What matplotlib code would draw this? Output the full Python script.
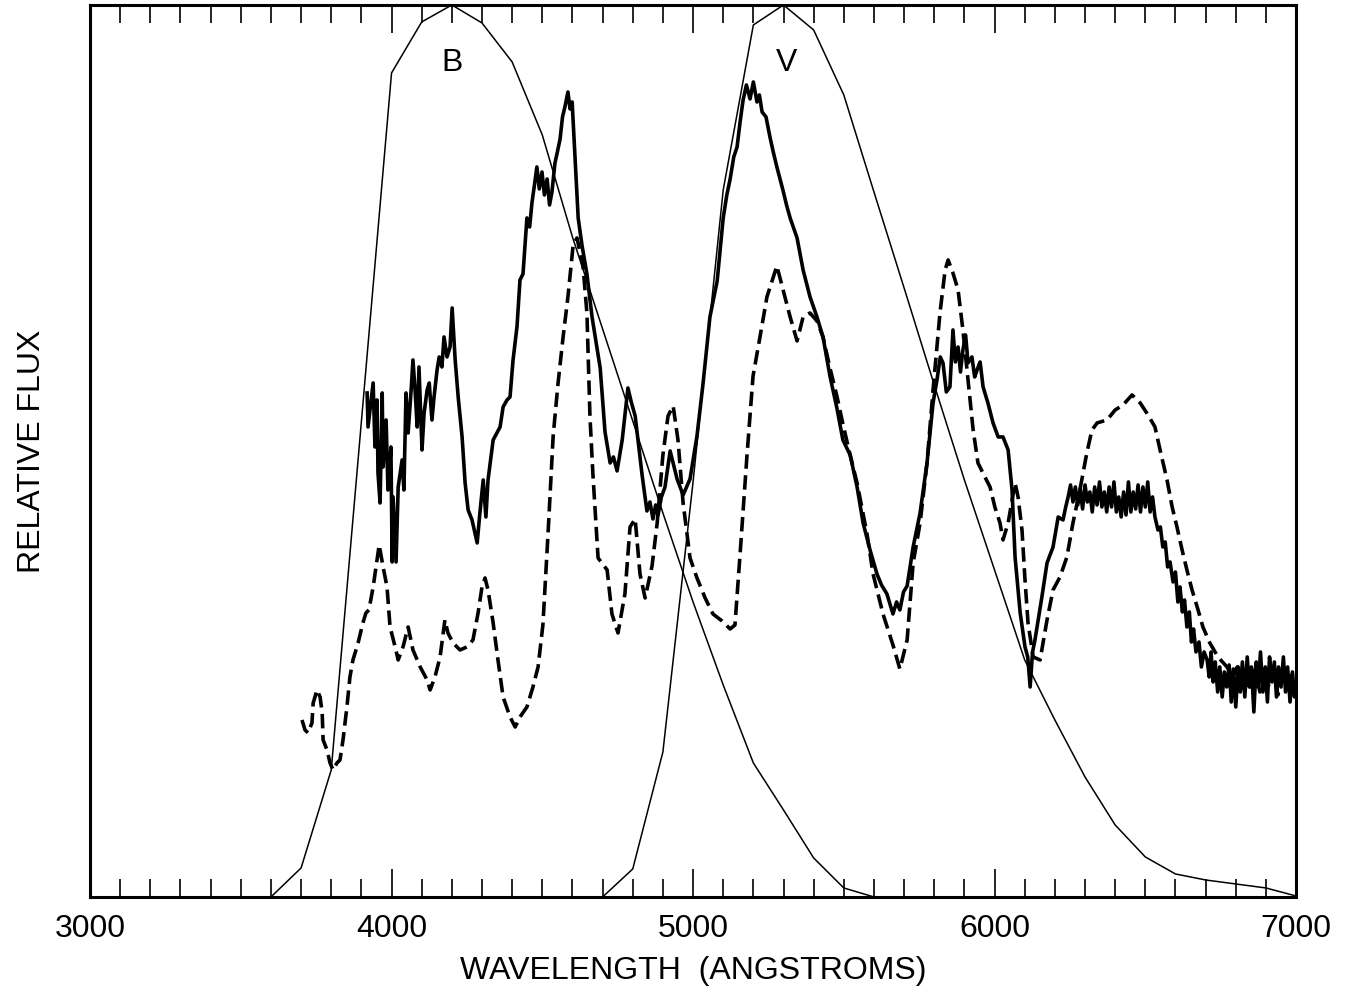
import matplotlib
matplotlib.use("Agg")
import matplotlib.pyplot as plt
from matplotlib.ticker import MultipleLocator

plt.rcParams["font.family"] = ["Liberation Sans", "DejaVu Sans"]

# filter transmission curves (same relative units as the spectra)
b_wave = [3600, 3700, 3800, 4000, 4100, 4200, 4300, 4400, 4500, 4600, 4700,
          4800, 4900, 5000, 5100, 5200, 5300, 5400, 5500, 5600]
b_resp = [0.0, 0.29, 1.27, 8.24, 8.75, 8.92, 8.74, 8.35, 7.62, 6.60, 5.68,
          4.76, 3.84, 2.95, 2.12, 1.34, 0.87, 0.39, 0.09, 0.0]

v_wave = [4700, 4800, 4900, 5000, 5100, 5200, 5300, 5400, 5500, 5600, 5700,
          5800, 5900, 6000, 6100, 6200, 6300, 6400, 6500, 6600, 6700, 6800,
          6900, 7000]
v_resp = [0.0, 0.28, 1.45, 4.15, 7.07, 8.72, 8.92, 8.67, 8.02, 7.05, 6.09,
          5.12, 4.17, 3.27, 2.37, 1.77, 1.20, 0.72, 0.40, 0.23, 0.17, 0.13,
          0.09, 0.01]

# solid spectrum
s1_wave = [3919, 3922, 3939, 3945, 3952, 3955, 3962, 3969, 3972, 3982, 3988,
           3998, 4002, 4005, 4015, 4022, 4035, 4041, 4048, 4055, 4065, 4071,
           4078, 4085, 4091, 4101, 4108, 4118, 4125, 4134, 4141, 4151, 4158,
           4167, 4174, 4184, 4194, 4201, 4211, 4221, 4234, 4244, 4254, 4267,
           4284, 4293, 4304, 4313, 4320, 4337, 4360, 4370, 4383, 4393, 4403,
           4416, 4426, 4436, 4449, 4458, 4466, 4474, 4482, 4490, 4499, 4507,
           4516, 4524, 4532, 4542, 4550, 4559, 4567, 4575, 4585, 4592, 4599,
           4609, 4619, 4632, 4648, 4665, 4692, 4708, 4725, 4736, 4748, 4765,
           4784, 4795, 4808, 4831, 4847, 4857, 4867, 4876, 4884, 4895, 4907,
           4924, 4947, 4967, 4990, 5013, 5033, 5056, 5080, 5100, 5112, 5123,
           5135, 5146, 5156, 5166, 5177, 5189, 5200, 5212, 5220, 5229, 5242,
           5255, 5266, 5278, 5298, 5310, 5322, 5345, 5365, 5388, 5411, 5431,
           5454, 5477, 5497, 5521, 5544, 5564, 5587, 5610, 5625, 5643, 5663,
           5675, 5686, 5698, 5710, 5730, 5753, 5776, 5796, 5809, 5820, 5829,
           5840, 5852, 5862, 5870, 5879, 5887, 5895, 5904, 5912, 5925, 5934,
           5942, 5952, 5962, 5978, 5995, 6012, 6028, 6045, 6058, 6068, 6085,
           6101, 6110, 6118, 6126, 6134, 6157, 6174, 6194, 6211, 6227, 6236,
           6244, 6252, 6260, 6268, 6276, 6284, 6292, 6300, 6308, 6316, 6324,
           6332, 6340, 6348, 6356, 6364, 6372, 6380, 6388, 6396, 6404, 6412,
           6420, 6428, 6436, 6444, 6452, 6460, 6468, 6476, 6484, 6492, 6500,
           6508, 6516, 6524, 6532, 6542, 6550, 6558, 6566, 6574, 6582, 6592,
           6600, 6608, 6615, 6623, 6630, 6638, 6646, 6653, 6660, 6668, 6678,
           6686, 6695, 6705, 6712, 6718, 6725, 6732, 6740, 6747, 6755, 6762,
           6770, 6778, 6785, 6792, 6800, 6808, 6815, 6822, 6830, 6838, 6845,
           6852, 6860, 6868, 6875, 6882, 6890, 6898, 6905, 6912, 6920, 6928,
           6935, 6942, 6950, 6958, 6965, 6972, 6980, 6988, 6995, 7000]
s1_flux = [5.04, 4.70, 5.14, 4.50, 4.97, 4.24, 3.94, 5.04, 4.30, 4.77, 4.07,
           4.50, 3.35, 4.00, 3.35, 4.10, 4.37, 4.07, 5.04, 4.64, 5.07, 5.37,
           5.07, 4.70, 5.30, 4.47, 4.84, 5.07, 5.14, 4.77, 5.00, 5.27, 5.40,
           5.30, 5.60, 5.40, 5.50, 5.89, 5.37, 5.00, 4.60, 4.14, 3.87, 3.77,
           3.54, 3.84, 4.17, 3.80, 4.17, 4.57, 4.70, 4.90, 4.97, 5.00, 5.37,
           5.70, 6.17, 6.23, 6.79, 6.70, 6.95, 7.12, 7.30, 7.08, 7.25, 7.02,
           7.18, 6.92, 7.05, 7.34, 7.45, 7.58, 7.80, 7.90, 8.05, 7.88, 7.95,
           7.38, 6.79, 6.51, 6.23, 5.80, 5.29, 4.65, 4.34, 4.40, 4.26, 4.57,
           5.09, 4.95, 4.81, 4.22, 3.86, 3.95, 3.78, 3.92, 3.82, 4.00, 4.10,
           4.46, 4.18, 4.02, 4.18, 4.61, 5.13, 5.80, 6.16, 6.79, 7.02, 7.18,
           7.40, 7.50, 7.75, 7.97, 8.12, 7.98, 8.15, 7.95, 8.02, 7.85, 7.80,
           7.60, 7.45, 7.30, 7.07, 6.92, 6.79, 6.59, 6.27, 6.00, 5.80, 5.60,
           5.21, 4.89, 4.57, 4.42, 4.10, 3.74, 3.47, 3.23, 3.12, 3.03, 2.83,
           2.95, 2.87, 3.05, 3.11, 3.50, 3.84, 4.34, 4.94, 5.17, 5.40, 5.34,
           5.05, 5.10, 5.67, 5.35, 5.50, 5.25, 5.47, 5.62, 5.34, 5.40, 5.20,
           5.27, 5.35, 5.10, 4.94, 4.74, 4.60, 4.60, 4.47, 4.07, 3.40, 2.84,
           2.50, 2.40, 2.10, 2.45, 2.57, 3.00, 3.34, 3.50, 3.80, 3.77, 3.90,
           4.00, 4.12, 3.95, 4.10, 3.92, 4.08, 3.88, 4.12, 3.95, 4.05, 3.85,
           4.10, 3.92, 4.15, 3.90, 4.05, 3.85, 4.10, 3.90, 4.15, 3.85, 4.00,
           3.80, 4.05, 3.82, 4.15, 3.85, 4.05, 3.88, 4.12, 3.85, 4.10, 3.90,
           4.15, 3.85, 4.00, 3.80, 3.67, 3.70, 3.50, 3.55, 3.30, 3.35, 3.15,
           3.25, 2.95, 3.10, 2.85, 2.97, 2.70, 2.85, 2.55, 2.68, 2.45, 2.55,
           2.30, 2.45, 2.37, 2.20, 2.45, 2.15, 2.35, 2.05, 2.30, 2.00, 2.25,
           2.10, 2.32, 1.95, 2.28, 1.90, 2.30, 2.05, 2.35, 2.00, 2.40, 2.10,
           2.30, 1.85, 2.35, 2.10, 2.45, 2.05, 2.30, 1.95, 2.40, 2.15, 2.35,
           2.00, 2.30, 2.10, 2.40, 2.05, 2.30, 1.95, 2.25, 2.00, 2.15]

# dashed spectrum
s2_wave = [3703, 3713, 3723, 3736, 3740, 3753, 3763, 3770, 3773, 3786, 3796,
           3806, 3819, 3829, 3839, 3852, 3862, 3872, 3889, 3905, 3915, 3925,
           3939, 3952, 3959, 3972, 3985, 3995, 4012, 4022, 4038, 4055, 4071,
           4095, 4118, 4128, 4144, 4161, 4177, 4187, 4204, 4227, 4250, 4270,
           4287, 4300, 4310, 4320, 4337, 4353, 4370, 4393, 4410, 4426, 4449,
           4469, 4486, 4502, 4519, 4536, 4552, 4569, 4585, 4602, 4615, 4635,
           4648, 4658, 4668, 4685, 4715, 4731, 4751, 4774, 4791, 4808, 4824,
           4841, 4864, 4881, 4900, 4917, 4934, 4950, 4967, 4990, 5013, 5040,
           5066, 5096, 5123, 5139, 5156, 5179, 5199, 5222, 5245, 5278, 5298,
           5322, 5345, 5365, 5388, 5411, 5431, 5454, 5477, 5497, 5521, 5544,
           5577, 5597, 5630, 5663, 5686, 5710, 5730, 5753, 5776, 5796, 5809,
           5819, 5836, 5846, 5862, 5879, 5895, 5912, 5929, 5945, 5968, 5985,
           6001, 6018, 6028, 6045, 6068, 6078, 6091, 6101, 6111, 6128, 6151,
           6174, 6194, 6217, 6240, 6260, 6283, 6306, 6323, 6340, 6373, 6400,
           6426, 6456, 6483, 6509, 6532, 6549, 6559, 6572, 6589, 6605, 6622,
           6638, 6655, 6675, 6691, 6714, 6741, 6771, 6790, 6805, 6820, 6835,
           6850, 6865, 6880, 6895, 6910, 6925, 6940, 6955, 6970, 6985, 7000]
s2_flux = [1.77, 1.67, 1.64, 1.74, 1.94, 2.07, 2.00, 1.84, 1.57, 1.47, 1.34,
           1.27, 1.34, 1.37, 1.57, 1.90, 2.20, 2.37, 2.54, 2.74, 2.84, 2.87,
           3.10, 3.37, 3.52, 3.30, 3.10, 2.70, 2.50, 2.37, 2.50, 2.70, 2.47,
           2.30, 2.17, 2.07, 2.20, 2.40, 2.77, 2.64, 2.54, 2.47, 2.50, 2.57,
           2.84, 3.10, 3.19, 3.07, 2.74, 2.37, 2.00, 1.80, 1.70, 1.80, 1.90,
           2.10, 2.30, 2.72, 3.63, 4.61, 5.13, 5.60, 6.00, 6.51, 6.59, 6.31,
           5.84, 4.81, 4.22, 3.39, 3.27, 2.83, 2.64, 3.03, 3.70, 3.78, 3.23,
           2.99, 3.31, 3.74, 4.42, 4.81, 4.91, 4.57, 3.94, 3.39, 3.19, 2.99,
           2.83, 2.76, 2.68, 2.72, 3.43, 4.42, 5.21, 5.60, 6.00, 6.31, 6.08,
           5.80, 5.56, 5.80, 5.84, 5.76, 5.60, 5.29, 5.01, 4.73, 4.42, 4.14,
           3.63, 3.23, 2.83, 2.52, 2.28, 2.57, 3.34, 3.74, 4.34, 5.07, 5.50,
           5.84, 6.27, 6.37, 6.24, 6.07, 5.67, 5.17, 4.67, 4.34, 4.20, 4.10,
           3.90, 3.74, 3.57, 3.74, 4.14, 4.00, 3.67, 3.17, 2.74, 2.40, 2.37,
           2.77, 3.07, 3.20, 3.40, 3.74, 4.07, 4.44, 4.67, 4.74, 4.77, 4.87,
           4.92, 5.02, 4.94, 4.82, 4.70, 4.47, 4.34, 4.17, 3.90, 3.70, 3.47,
           3.27, 3.07, 2.87, 2.70, 2.54, 2.40, 2.30, 2.20, 2.30, 2.05, 2.25,
           2.10, 2.28, 2.05, 2.30, 2.10, 2.25, 2.02, 2.30, 2.10, 2.22, 2.08]

fig = plt.figure(figsize=(13.56, 9.92), dpi=100)
ax = fig.add_axes([0.0664, 0.0958, 0.8894, 0.8992])

ax.plot(b_wave, b_resp, color="black", lw=1.1)
ax.plot(v_wave, v_resp, color="black", lw=1.1)
ax.plot(s1_wave, s1_flux, color="black", lw=2.6)
ax.plot(s2_wave, s2_flux, color="black", lw=2.6, linestyle=(0, (4.0, 1.8)))

ax.text(4200, 8.34, "B", fontsize=23, ha="center", va="center")
ax.text(5310, 8.34, "V", fontsize=23, ha="center", va="center")

ax.set_xlim(3000, 7000)
ax.set_ylim(0, 8.92)
ax.xaxis.set_major_locator(MultipleLocator(1000))
ax.xaxis.set_minor_locator(MultipleLocator(100))
ax.set_yticks([])
ax.tick_params(axis="x", which="both", direction="in", top=True, bottom=True,
               labelsize=23, pad=12, width=1.2, color="black")
ax.tick_params(axis="x", which="major", length=20)
ax.tick_params(axis="x", which="minor", length=13)
for sp in ax.spines.values():
    sp.set_linewidth(2.2)

ax.set_xlabel("WAVELENGTH  (ANGSTROMS)", fontsize=23, labelpad=9)
ax.set_ylabel("RELATIVE FLUX", fontsize=23, labelpad=31)

fig.savefig("out.png", dpi=100)
